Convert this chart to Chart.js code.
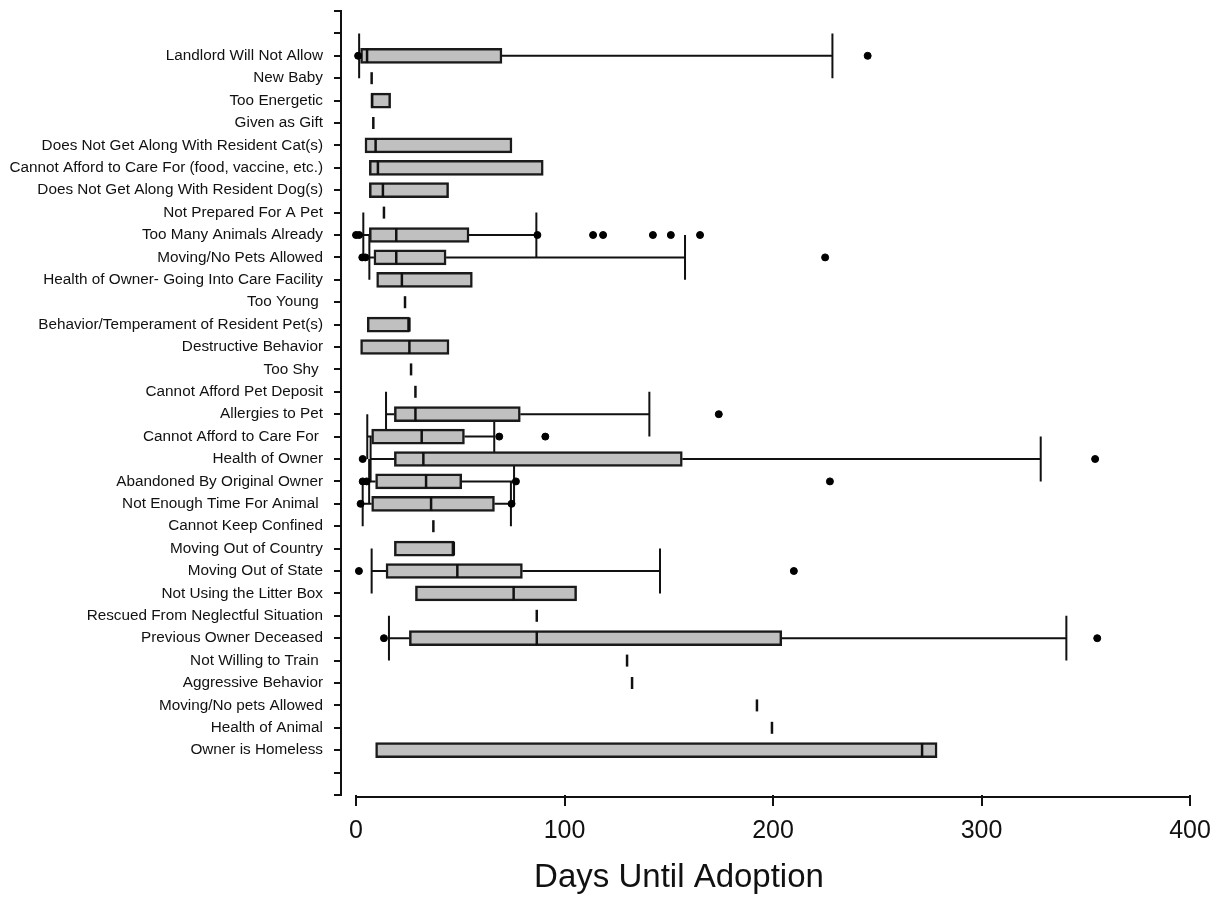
<!DOCTYPE html>
<html>
<head>
<meta charset="utf-8">
<script src="https://cdn.jsdelivr.net/npm/chart.js@4"></script>
<style>
  html, body { margin: 0; padding: 0; background: #fff; }
  #wrap { width: 1225px; height: 920px; }
</style>
</head>
<body>
<div id="wrap"><canvas id="chart"></canvas></div>
<script>
// reasons, sorted by median days until adoption
const categories = [
  "Landlord Will Not Allow", "New Baby", "Too Energetic", "Given as Gift",
  "Does Not Get Along With Resident Cat(s)", "Cannot Afford to Care For (food, vaccine, etc.)",
  "Does Not Get Along With Resident Dog(s)", "Not Prepared For A Pet",
  "Too Many Animals Already", "Moving/No Pets Allowed",
  "Health of Owner- Going Into Care Facility", "Too Young ",
  "Behavior/Temperament of Resident Pet(s)", "Destructive Behavior", "Too Shy ",
  "Cannot Afford Pet Deposit", "Allergies to Pet", "Cannot Afford to Care For ",
  "Health of Owner", "Abandoned By Original Owner", "Not Enough Time For Animal ",
  "Cannot Keep Confined", "Moving Out of Country", "Moving Out of State",
  "Not Using the Litter Box", "Rescued From Neglectful Situation",
  "Previous Owner Deceased", "Not Willing to Train ", "Aggressive Behavior",
  "Moving/No pets Allowed", "Health of Animal", "Owner is Homeless"
];
const q1 = [2.2, 7.5, 7.2, 8.3, 4.3, 6.4, 6.4, 13.4, 6.4, 8.6, 9.9, 23.5, 5.4, 2.2, 26.4, 28.5,
            18.4, 7.5, 18.4, 9.4, 7.5, 37.1, 18.4, 14.4, 28.5, 86.7, 25.6, 130, 132.4, 192.3, 199.5, 9.4];
const medians = [5.3, 7.5, 7.7, 8.3, 9.4, 10.5, 12.9, 13.4, 19.3, 19.3, 22, 23.5, 25.6, 25.6, 26.4, 28.5,
                 28.5, 31.5, 32.3, 33.6, 36, 37.1, 46.9, 48.6, 75.6, 86.7, 86.7, 130, 132.4, 192.3, 199.5, 271.5];
const q3 = [70, 7.5, 16.6, 8.3, 74.8, 89.8, 44.4, 13.4, 54.2, 43.2, 55.8, 23.5, 25.6, 44.6, 26.4, 28.5,
            78.8, 52, 156.5, 50.7, 66.4, 37.1, 46.9, 79.8, 105.8, 86.7, 204.2, 130, 132.4, 192.3, 199.5, 278.7];
const whiskerLow = [1.5, null, null, null, null, null, null, null, 3.5, 6.4, null, null, null, null, null, null,
                    14.4, 5.4, 7, 6.3, 3.2, null, null, 7.5, null, null, 15.8, null, null, null, null, null];
const whiskerHigh = [228.5, null, null, null, null, null, null, null, 86.5, 157.8, null, null, null, null, null, null,
                     140.7, 66.3, 328.4, 75.8, 74.3, null, null, 145.8, null, null, 340.7, null, null, null, null, null];
const outliers = [
  [1, 245.4], [], [], [], [], [], [], [],
  [0, 1.5, 87, 113.7, 118.5, 142.4, 151, 165], [3, 4.5, 225], [], [], [], [], [], [],
  [174], [68.7, 90.8], [3.2, 354.5], [3.2, 5.1, 76.7, 227.3], [2.2, 74.6], [], [], [1.4, 210],
  [], [], [13.4, 355.5], [], [], [], [], []
];
const xTickValues = [0, 100, 200, 300, 400];
const xTitle = "Days Until Adoption";

// two empty tick slots above and below the reasons
const axisLabels = ["", "", ...categories, "", ""];
const OFFSET = 2;

const FONT = '"Liberation Sans", Arial, sans-serif';
const INK = "#111";

const boxData = axisLabels.map((_, k) => {
  const i = k - OFFSET;
  if (i < 0 || i >= categories.length) return null;
  return q1[i] === q3[i] ? null : [q1[i], q3[i]];
});
const pointData = outliers.flatMap((list, i) => list.map(v => ({ x: v, y: categories[i] })));

const boxParts = {
  id: "boxParts",
  beforeDatasetsDraw(chart) {
    const { ctx, scales: { x, y } } = chart;
    const step = y.getPixelForValue(1) - y.getPixelForValue(0);
    ctx.save();
    ctx.strokeStyle = INK;
    ctx.lineWidth = 2;
    categories.forEach((_, i) => {
      if (whiskerLow[i] == null) return;
      const yc = y.getPixelForValue(i + OFFSET);
      const lo = x.getPixelForValue(whiskerLow[i]);
      const hi = x.getPixelForValue(whiskerHigh[i]);
      ctx.beginPath();
      ctx.moveTo(lo, yc); ctx.lineTo(x.getPixelForValue(q1[i]), yc);
      ctx.moveTo(x.getPixelForValue(q3[i]), yc); ctx.lineTo(hi, yc);
      ctx.moveTo(lo, yc - step); ctx.lineTo(lo, yc + step);
      ctx.moveTo(hi, yc - step); ctx.lineTo(hi, yc + step);
      ctx.stroke();
    });
    ctx.restore();
  },
  afterDatasetDraw(chart, args) {
    if (args.index !== 0) return;
    const { ctx, scales: { x, y } } = chart;
    ctx.save();
    ctx.strokeStyle = INK;
    ctx.lineWidth = 2.5;
    categories.forEach((_, i) => {
      const yc = y.getPixelForValue(i + OFFSET);
      const h = q1[i] === q3[i] ? 6 : 7;
      const m = x.getPixelForValue(medians[i]);
      ctx.beginPath();
      ctx.moveTo(m, yc - h); ctx.lineTo(m, yc + h);
      ctx.stroke();
    });
    ctx.restore();
  },
  afterDraw(chart) {
    const { ctx, chartArea, scales: { x } } = chart;
    ctx.save();
    // x axis line only spans the tick range, R style
    ctx.strokeStyle = INK;
    ctx.lineWidth = 2;
    ctx.beginPath();
    ctx.moveTo(x.getPixelForValue(xTickValues[0]), chartArea.bottom + 2);
    ctx.lineTo(x.getPixelForValue(xTickValues[xTickValues.length - 1]), chartArea.bottom + 2);
    ctx.stroke();
    ctx.fillStyle = INK;
    ctx.font = "33px " + FONT;
    ctx.textAlign = "center";
    ctx.textBaseline = "middle";
    ctx.fillText(xTitle, 679, 878);
    ctx.restore();
  }
};

new Chart(document.getElementById("chart"), {
  type: "bar",
  data: {
    labels: axisLabels,
    datasets: [{
      label: "box",
      data: boxData,
      backgroundColor: "#c0c0c0",
      borderColor: "#1a1a1a",
      borderWidth: 2.5,
      borderSkipped: false,
      barThickness: 15,
      order: 2
    }, {
      type: "scatter",
      label: "outliers",
      data: pointData,
      backgroundColor: "#000",
      borderColor: "#000",
      pointRadius: 3.5,
      pointHoverRadius: 3.5,
      order: 1
    }]
  },
  options: {
    indexAxis: "y",
    responsive: true,
    maintainAspectRatio: false,
    animation: false,
    layout: { padding: { top: 11, right: 35, bottom: 0, left: 0 } },
    plugins: {
      legend: { display: false },
      tooltip: { enabled: false }
    },
    scales: {
      x: {
        type: "linear",
        min: -7.2,
        max: 400,
        afterBuildTicks: s => { s.ticks = xTickValues.map(v => ({ value: v })); },
        afterFit: s => { s.height = 125; },
        border: { display: false },
        grid: { drawOnChartArea: false, drawTicks: true, tickLength: 11, color: INK, lineWidth: 2 },
        ticks: { color: INK, font: { family: FONT, size: 25 }, padding: 10, maxRotation: 0 }
      },
      y: {
        type: "category",
        offset: false,
        afterFit: s => { s.width = 341; s.paddingTop = 0; s.paddingBottom = 0; },
        border: { display: true, color: INK, width: 2 },
        grid: { offset: false, drawOnChartArea: false, drawTicks: true, tickLength: 7, color: INK, lineWidth: 2 },
        ticks: { color: INK, font: { family: FONT, size: 15.3 }, padding: 11, autoSkip: false }
      }
    }
  },
  plugins: [boxParts]
});
</script>
</body>
</html>
